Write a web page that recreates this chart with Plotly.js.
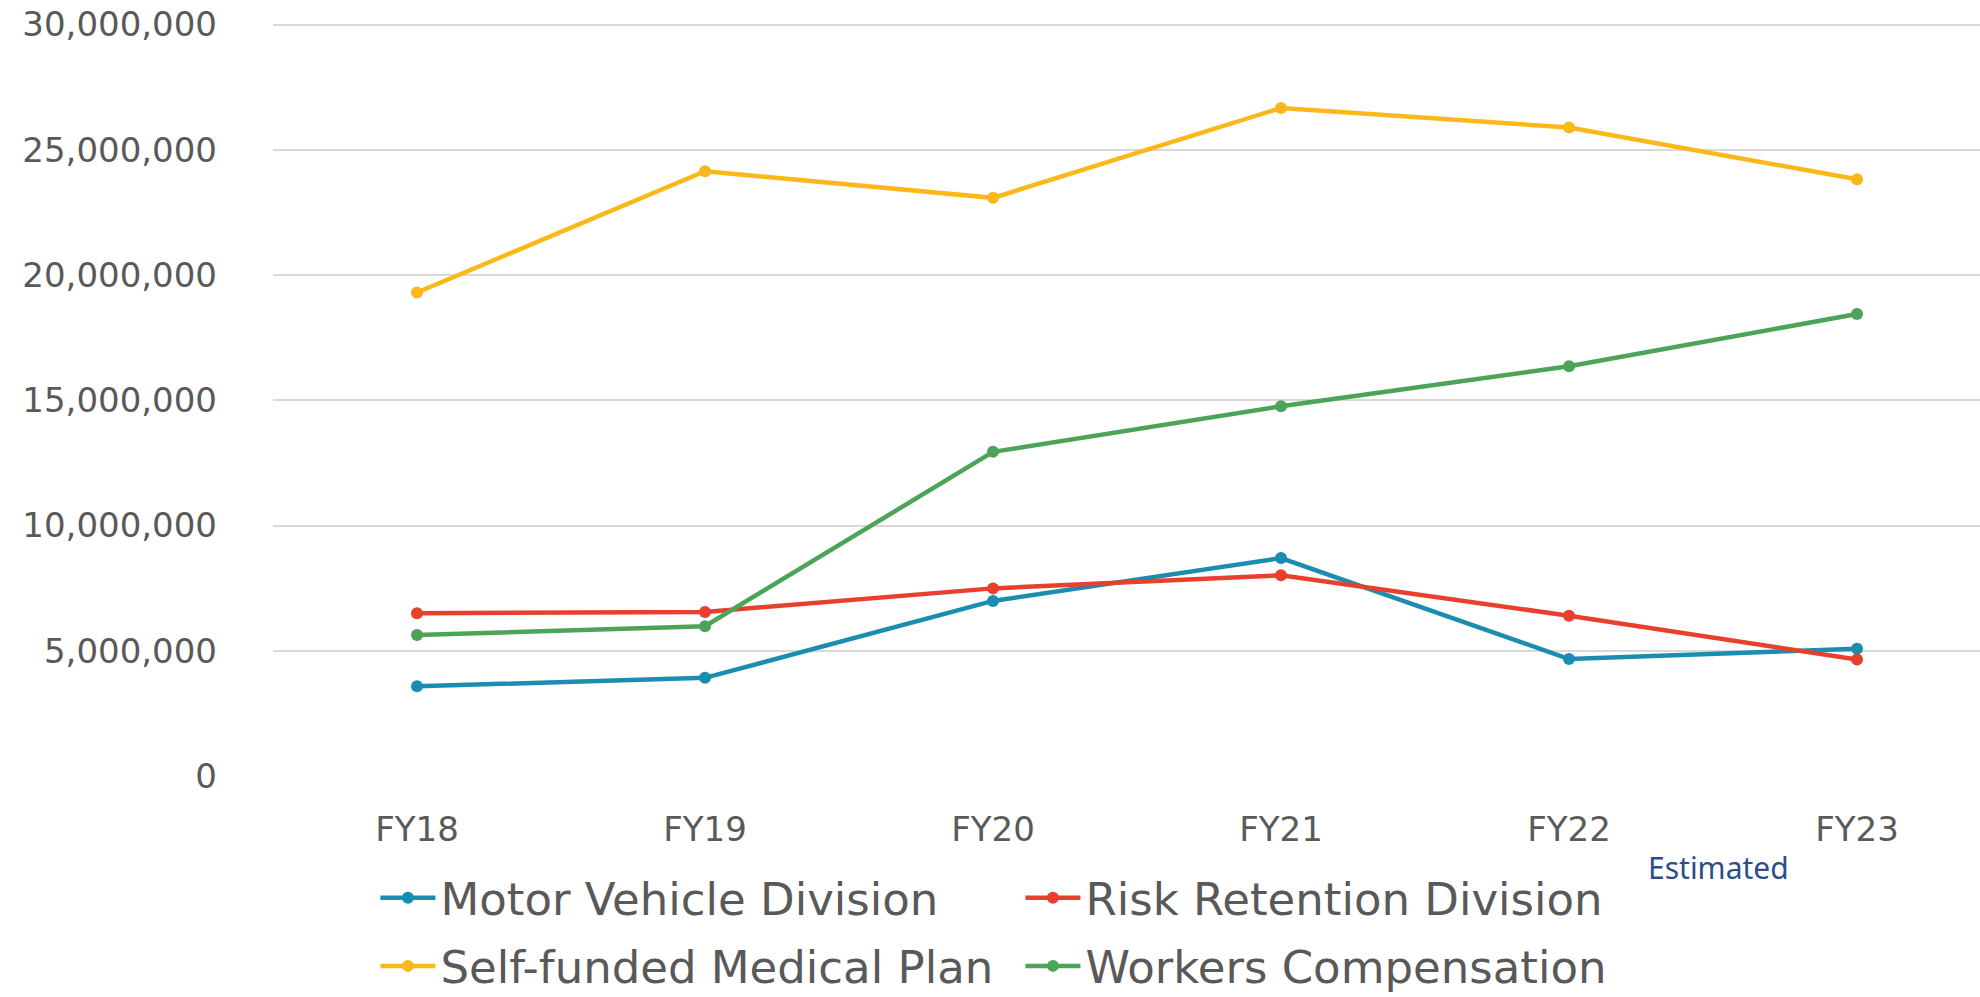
<!DOCTYPE html>
<html>
<head>
<meta charset="utf-8">
<script src="https://cdn.plot.ly/plotly-3.0.1.min.js"></script>
<style>html,body{margin:0;padding:0;background:#fff;}#chart{width:1980px;height:997px;}</style>
</head>
<body>
<div id="chart"></div>
<script>
const categories = ["FY18", "FY19", "FY20", "FY21", "FY22", "FY23"];
const motorVehicle = [3580000, 3920000, 6990000, 8700000, 4670000, 5080000];
const riskRetention = [6500000, 6550000, 7490000, 8010000, 6400000, 4650000];
const selfFundedMedical = [19300000, 24140000, 23080000, 26670000, 25890000, 23820000];
const workersComp = [5630000, 5980000, 12940000, 14760000, 16360000, 18440000];
const seriesNames = ["Motor Vehicle Division", "Risk Retention Division", "Self-funded Medical Plan", "Workers Compensation"];
const seriesColors = ["#1a8db0", "#e8402c", "#fbb818", "#4ca458"];
const seriesLegends = ["legend", "legend", "legend2", "legend2"];
const noteText = "Estimated";

const allSeries = [motorVehicle, riskRetention, selfFundedMedical, workersComp];
const traces = allSeries.map((vals, i) => ({
  type: "scatter",
  mode: "lines+markers",
  name: seriesNames[i],
  legend: seriesLegends[i],
  x: categories,
  y: vals,
  line: {color: seriesColors[i], width: 4.5},
  marker: {color: seriesColors[i], size: 12},
  hoverinfo: "x+y+name"
}));

const plotTop = 25, plotBottom = 776, plotLeft = 273, plotW = 1707;
const pxPerUnit = (plotBottom - plotTop) / 30000000;
const yMax = 30100000;
const tMargin = plotBottom - yMax * pxPerUnit;

function legendBox(yPx) {
  return {
    orientation: "h",
    xref: "paper",
    yref: "paper",
    x: 0.060,
    xanchor: "left",
    y: -(yPx - plotBottom) / (yMax * pxPerUnit),
    yanchor: "middle",
    entrywidth: 575,
    entrywidthmode: "pixels",
    font: {family: "DejaVu Sans", size: 45, color: "#595959"},
    itemwidth: 55,
    bgcolor: "rgba(0,0,0,0)"
  };
}

const layout = {
  width: 1980,
  height: 997,
  paper_bgcolor: "#ffffff",
  plot_bgcolor: "#ffffff",
  margin: {l: plotLeft, r: 0, t: tMargin, b: 997 - plotBottom, autoexpand: false},
  showlegend: true,
  font: {family: "DejaVu Sans", color: "#595959", size: 33},
  xaxis: {
    type: "category",
    range: [-0.5, 5.427],
    showgrid: false,
    zeroline: false,
    showline: false,
    ticks: "",
    ticklabelstandoff: 30,
    tickfont: {family: "DejaVu Sans", size: 34, color: "#595959"},
    automargin: false,
    fixedrange: true
  },
  yaxis: {
    range: [0, yMax],
    dtick: 5000000,
    tick0: 0,
    tickformat: ",.0f",
    showgrid: true,
    gridcolor: "#d9d9d9",
    gridwidth: 2,
    zeroline: false,
    showline: false,
    ticks: "",
    ticklabelstandoff: 55,
    tickfont: {family: "DejaVu Sans", size: 34, color: "#595959"},
    automargin: false,
    fixedrange: true
  },
  legend: legendBox(898),
  legend2: legendBox(966),
  annotations: [{
    text: noteText,
    xref: "paper",
    yref: "paper",
    x: (1718 - plotLeft) / plotW,
    y: -(867 - plotBottom) / (yMax * pxPerUnit),
    xanchor: "center",
    yanchor: "middle",
    showarrow: false,
    font: {family: "Noto Sans", size: 30, color: "#2b4f86"}
  }]
};

Plotly.newPlot("chart", traces, layout, {displayModeBar: false, staticPlot: true});
</script>
</body>
</html>
